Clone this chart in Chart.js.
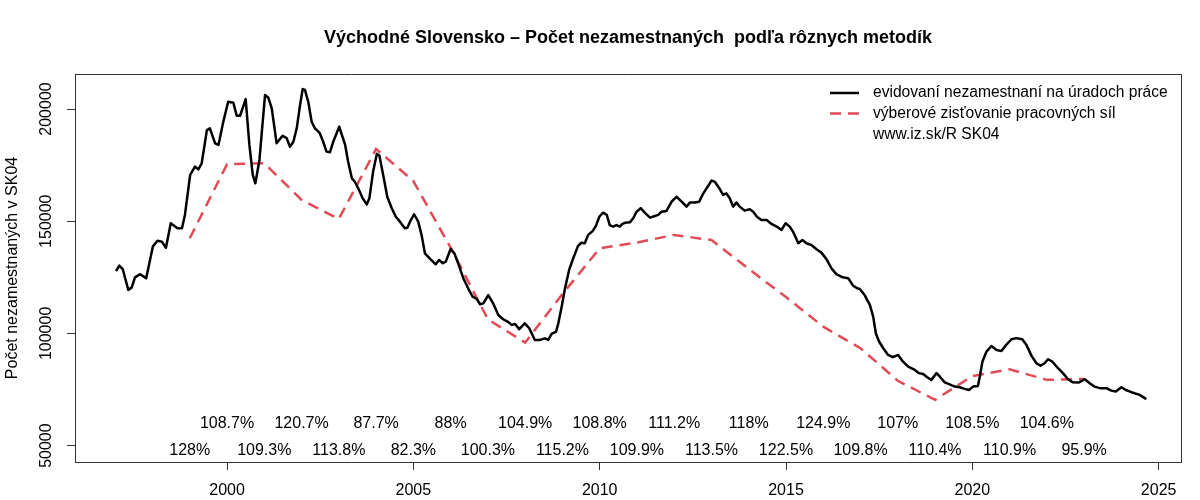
<!DOCTYPE html>
<html>
<head>
<meta charset="utf-8">
<script src="https://cdn.jsdelivr.net/npm/chart.js@4.4.1/dist/chart.umd.min.js"></script>
<style>
body { margin: 0; background: #fff; }
canvas { display: block; }
</style>
</head>
<body>
<canvas id="chart" width="1200" height="500"></canvas>
<script>
// registered unemployed (monthly)
const evidTime = [
  1997.02, 1997.11, 1997.20, 1997.35, 1997.44, 1997.53, 1997.67, 1997.83,
  1998.01, 1998.13, 1998.25, 1998.36, 1998.49, 1998.67, 1998.79, 1998.87,
  1999.01, 1999.14, 1999.23, 1999.32, 1999.46, 1999.54, 1999.68, 1999.77, 1999.90,
  2000.03, 2000.17, 2000.26, 2000.35, 2000.50, 2000.60, 2000.69, 2000.76, 2000.87, 2000.95,
  2001.02, 2001.11, 2001.20, 2001.33, 2001.49, 2001.60, 2001.69, 2001.78, 2001.87, 2001.96,
  2002.03, 2002.09, 2002.18, 2002.27, 2002.36, 2002.49, 2002.58, 2002.67, 2002.76, 2002.85,
  2003.01, 2003.17, 2003.25, 2003.35, 2003.43, 2003.52, 2003.64, 2003.75, 2003.82, 2003.92,
  2004.02, 2004.09, 2004.19, 2004.30, 2004.42, 2004.53, 2004.64, 2004.77, 2004.84, 2004.91,
  2005.02, 2005.13, 2005.22, 2005.31, 2005.45, 2005.60, 2005.69, 2005.79, 2005.87,
  2006.00, 2006.10, 2006.20, 2006.34, 2006.47, 2006.59, 2006.70, 2006.79, 2006.88,
  2007.01, 2007.14, 2007.28, 2007.41, 2007.55, 2007.64, 2007.73, 2007.84, 2007.99,
  2008.11, 2008.26, 2008.40, 2008.53, 2008.62, 2008.71, 2008.83, 2008.89, 2008.98,
  2009.07, 2009.18, 2009.29, 2009.42, 2009.51, 2009.60, 2009.69, 2009.81, 2009.90, 2009.99,
  2010.09, 2010.19, 2010.27, 2010.36, 2010.45, 2010.54, 2010.61, 2010.68, 2010.81, 2010.90, 2010.99,
  2011.10, 2011.21, 2011.35, 2011.48, 2011.57, 2011.66, 2011.79, 2011.93,
  2012.06, 2012.20, 2012.33, 2012.42, 2012.55, 2012.67, 2012.78, 2012.91,
  2013.00, 2013.09, 2013.21, 2013.31, 2013.40, 2013.49, 2013.58, 2013.67, 2013.76, 2013.89,
  2014.03, 2014.12, 2014.22, 2014.34, 2014.48, 2014.61, 2014.75, 2014.88, 2014.99,
  2015.10, 2015.19, 2015.33, 2015.44, 2015.55, 2015.68, 2015.82, 2015.95,
  2016.09, 2016.22, 2016.35, 2016.52, 2016.67, 2016.80, 2016.91, 2016.98,
  2017.11, 2017.25, 2017.34, 2017.41, 2017.50, 2017.61, 2017.74, 2017.87,
  2018.01, 2018.14, 2018.28, 2018.43, 2018.57, 2018.68, 2018.79, 2018.90,
  2019.04, 2019.13, 2019.26, 2019.39, 2019.53, 2019.66, 2019.80, 2019.91,
  2020.02, 2020.15, 2020.20, 2020.27, 2020.38, 2020.51, 2020.65, 2020.78, 2020.91,
  2021.05, 2021.18, 2021.34, 2021.45, 2021.59, 2021.72, 2021.83, 2021.94,
  2022.03, 2022.15, 2022.30, 2022.43, 2022.57, 2022.70, 2022.85,
  2023.02, 2023.15, 2023.28, 2023.42, 2023.60, 2023.73, 2023.85,
  2024.00, 2024.12, 2024.27, 2024.49, 2024.67
];
const evidCount = [
  127800, 130200, 128700, 119400, 120400, 125000, 126400, 124600,
  138700, 141300, 140900, 138200, 149100, 146900, 146900, 152800,
  170600, 174300, 173100, 175800, 190600, 191400, 184700, 184000, 194300,
  203200, 202800, 197000, 197000, 204400, 184000, 170600, 166900, 177300, 192900,
  206200, 205000, 200300, 184700, 188100, 187000, 183200, 185400, 191400, 201800,
  208900, 208500, 203200, 194300, 191400, 189200, 185400, 181000, 180700, 185400,
  192100, 184000, 176500, 169100, 167600, 164700, 160200, 157500, 160200, 172100,
  180000, 179200, 170600, 160900, 155800, 152000, 149800, 146900, 147100, 149800,
  153100, 149800, 143900, 135700, 133200, 130800, 132700, 131300, 132000,
  137600, 135700, 131300, 124600, 120100, 116400, 115400, 113000, 113400,
  117100, 113400, 108200, 106300, 105000, 103800, 104200, 101900, 104500,
  102300, 97100, 97100, 97800, 97100, 99800, 100800, 104500, 111900,
  120100, 128300, 133500, 139000, 140400, 140200, 143900, 145600, 147900, 152000,
  153800, 152800, 148300, 147600, 148300, 147600, 148800, 149300, 149500, 151300, 154200,
  155800, 153800, 151600, 152300, 152800, 154200, 154500, 158700,
  160900, 158700, 156500, 158300, 158300, 158700, 162400, 165700,
  168100, 167600, 164700, 161700, 162400, 160200, 156500, 158300, 156500, 154700,
  155300, 154200, 152000, 150500, 150500, 148800, 147600, 146100, 149100,
  147600, 145300, 140200, 141600, 140200, 139400, 137500, 136000,
  133000, 129000, 126400, 125000, 124600, 121300, 120100, 119800,
  117100, 112700, 107500, 100100, 96300, 93400, 90400, 89400,
  90400, 87400, 85200, 84000, 82300, 81900, 80500, 79300,
  82300, 80700, 78200, 77300, 76300, 76000, 75300, 74800,
  76300, 76600, 80700, 87400, 91900, 94400, 92600, 92200, 94900,
  97400, 97900, 97400, 94900, 90000, 86700, 85600, 86700,
  88500, 87400, 84500, 82300, 79600, 78200, 78100,
  79600, 77800, 76300, 75600, 75600, 74500, 74100,
  76000, 74800, 73800, 72600, 70700
];

// labour force survey (annual)
const vzpsYears = [1999, 2000, 2001, 2002, 2003, 2004, 2005, 2006, 2007, 2008, 2009, 2010, 2011,
  2012, 2013, 2014, 2015, 2016, 2017, 2018, 2019, 2020, 2021, 2022, 2023];
const vzpsCount = [142400, 175400, 175800, 159500, 151000, 182200, 167900, 138200, 106300, 95900,
  117500, 137900, 140500, 143900, 141600, 128700, 116200, 103000, 93400, 78900, 70400, 81000,
  84000, 79300, 79700];

// ratio labels (registered / survey)
const ratioYearsTop = [2000, 2002, 2004, 2006, 2008, 2010, 2012, 2014, 2016, 2018, 2020, 2022];
const ratioTop = [108.7, 120.7, 87.7, 88, 104.9, 108.8, 111.2, 118, 124.9, 107, 108.5, 104.6];
const ratioYearsBottom = [1999, 2001, 2003, 2005, 2007, 2009, 2011, 2013, 2015, 2017, 2019, 2021, 2023];
const ratioBottom = [128, 109.3, 113.8, 82.3, 100.3, 115.2, 109.9, 113.5, 122.5, 109.8, 110.4, 110.9, 95.9];
const ratioLevelTop = 60000;
const ratioLevelBottom = 48000;

const xTicks = [2000, 2005, 2010, 2015, 2020, 2025];
const yTicks = [50000, 100000, 150000, 200000];

const titleText = 'Východné Slovensko – Počet nezamestnaných  podľa rôznych metodík';
const yTitle = 'Počet nezamestnaných v SK04';
const seriesNames = ['evidovaní nezamestnaní na úradoch práce', 'výberové zisťovanie pracovných síl'];
const sourceNote = 'www.iz.sk/R SK04';

const FONT = '"Liberation Sans", Arial, Helvetica, sans-serif';

const decorations = {
  id: 'decorations',
  afterDraw(chart) {
    const { ctx, chartArea: a, scales: { x, y } } = chart;
    ctx.save();

    // rest of the box
    ctx.strokeStyle = '#333';
    ctx.lineWidth = 1;
    ctx.beginPath();
    ctx.moveTo(a.left, a.top + 0.5);
    ctx.lineTo(a.right + 0.5, a.top + 0.5);
    ctx.lineTo(a.right + 0.5, a.bottom);
    ctx.stroke();

    ctx.fillStyle = '#000';
    ctx.textAlign = 'center';
    ctx.textBaseline = 'middle';

    // title
    ctx.font = `bold 18px ${FONT}`;
    ctx.fillText(titleText, (a.left + a.right) / 2, 38);

    // y tick labels, rotated like R
    ctx.font = `16px ${FONT}`;
    y.ticks.forEach(t => {
      ctx.save();
      ctx.translate(a.left - 28, y.getPixelForValue(t.value));
      ctx.rotate(-Math.PI / 2);
      ctx.fillText(String(t.value), 0, 0);
      ctx.restore();
    });

    // y axis title
    ctx.save();
    ctx.translate(13, (a.top + a.bottom) / 2);
    ctx.rotate(-Math.PI / 2);
    ctx.fillText(yTitle, 0, 0);
    ctx.restore();

    // ratio labels
    ratioYearsTop.forEach((yr, i) => {
      ctx.fillText(ratioTop[i] + '%', x.getPixelForValue(yr), y.getPixelForValue(ratioLevelTop));
    });
    ratioYearsBottom.forEach((yr, i) => {
      ctx.fillText(ratioBottom[i] + '%', x.getPixelForValue(yr), y.getPixelForValue(ratioLevelBottom));
    });

    // legend
    const lx = a.right - 351, ly = a.top + 19, step = 20.6;
    ctx.textAlign = 'left';
    ctx.font = `15.6px ${FONT}`;
    chart.data.datasets.forEach((ds, i) => {
      ctx.save();
      ctx.strokeStyle = ds.borderColor;
      ctx.lineWidth = ds.borderWidth;
      ctx.setLineDash(ds.borderDash || []);
      ctx.beginPath();
      ctx.moveTo(lx, ly + i * step);
      ctx.lineTo(lx + 29, ly + i * step);
      ctx.stroke();
      ctx.restore();
      ctx.fillText(ds.label, lx + 43, ly + i * step);
    });
    ctx.fillText(sourceNote, lx + 43, ly + 2 * step);

    ctx.restore();
  }
};

new Chart(document.getElementById('chart'), {
  type: 'line',
  data: {
    datasets: [{
      label: seriesNames[0],
      data: evidTime.map((t, i) => ({ x: t, y: evidCount[i] })),
      borderColor: '#000',
      borderWidth: 2.5,
      borderJoinStyle: 'round',
      pointRadius: 0,
      tension: 0
    }, {
      label: seriesNames[1],
      data: vzpsYears.map((t, i) => ({ x: t, y: vzpsCount[i] })),
      borderColor: '#E04B55',
      borderWidth: 2.5,
      borderDash: [11, 7],
      pointRadius: 0,
      tension: 0
    }]
  },
  options: {
    responsive: false,
    animation: false,
    devicePixelRatio: 1,
    layout: { padding: { left: 0, top: 74, right: 19, bottom: 0 } },
    plugins: { legend: { display: false }, tooltip: { enabled: false } },
    scales: {
      x: {
        type: 'linear',
        min: 1995.92,
        max: 2025.6,
        afterBuildTicks: s => { s.ticks = xTicks.map(v => ({ value: v })); },
        afterFit: s => { s.height = 38; },
        grid: { drawOnChartArea: false, drawTicks: true, tickLength: 8, color: '#333' },
        border: { display: true, color: '#333', width: 1 },
        ticks: {
          color: '#000',
          font: { family: FONT, size: 16 },
          padding: 11,
          maxRotation: 0,
          callback: v => String(v)
        }
      },
      y: {
        min: 42700,
        max: 215600,
        afterBuildTicks: s => { s.ticks = yTicks.map(v => ({ value: v })); },
        afterFit: s => { s.width = 75; },
        grid: { drawOnChartArea: false, drawTicks: true, tickLength: 8, color: '#333' },
        border: { display: true, color: '#333', width: 1 },
        ticks: { display: false }
      }
    }
  },
  plugins: [decorations]
});
</script>
</body>
</html>
